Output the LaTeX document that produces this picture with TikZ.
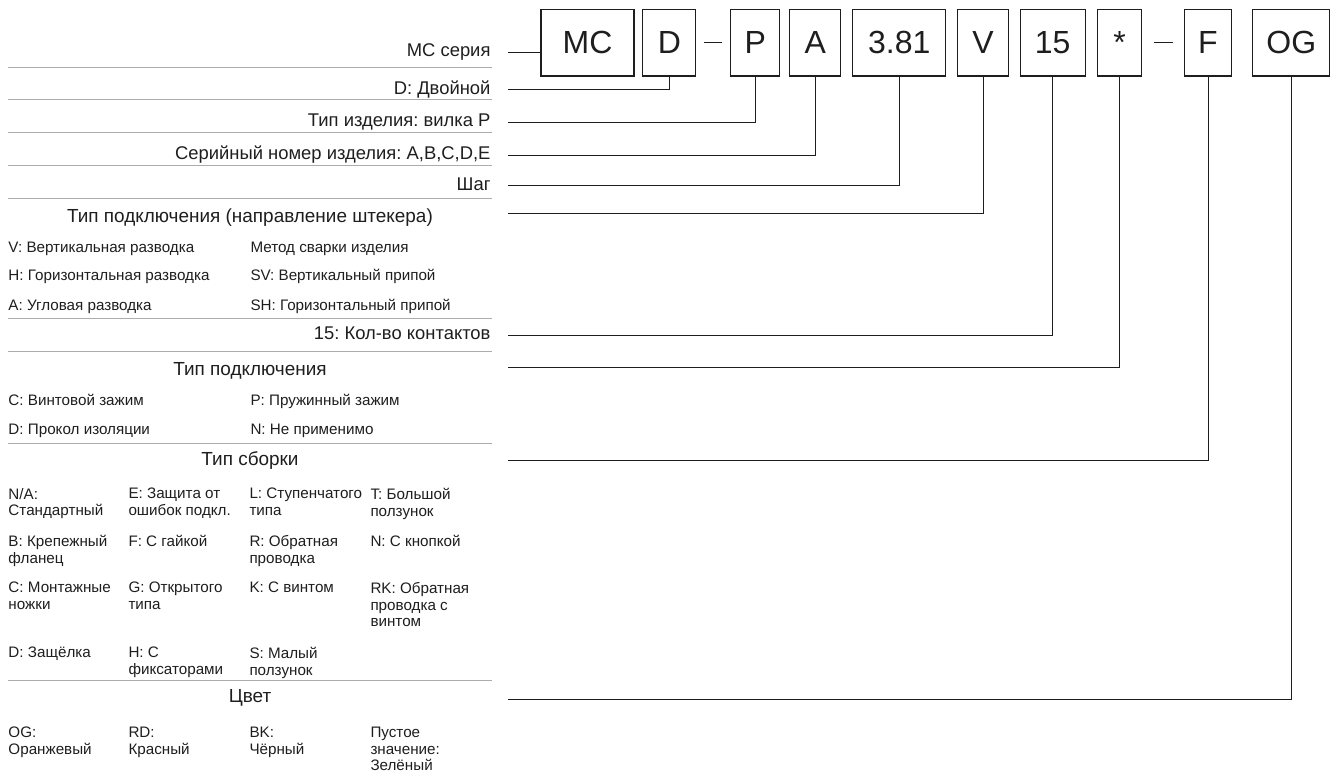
\documentclass[tikz,border=0pt]{standalone}
\usepackage{fontspec}
\setmainfont{Liberation Sans}
\frenchspacing
\definecolor{inkdark}{RGB}{30,30,30}
\definecolor{sepgray}{RGB}{172,172,172}
\tikzset{every picture/.style={line width=0.75pt}}
\tikzset{
	codebox/.style={draw=inkdark, line width=1pt, minimum height=50pt, minimum width=#1*0.75pt, inner sep=0pt, text=inkdark, font=\fontsize{24}{28}\selectfont},
	rowlabel/.style={anchor=base east, inner sep=0pt, text=inkdark, font=\fontsize{13.8}{16}\selectfont},
	headlabel/.style={anchor=base, inner sep=0pt, text=inkdark, font=\fontsize{14.2}{16}\selectfont},
	itemlabel/.style={anchor=base west, inner sep=0pt, text=inkdark, font=\fontsize{11.4}{12.75}\selectfont},
	celllabel/.style={anchor=north west, inner sep=0pt, align=left, text=inkdark, font=\fontsize{11.4}{12.6}\selectfont},
	sepline/.style={draw=sepgray, line width=0.75pt},
	leadline/.style={draw=inkdark, line width=0.75pt},
	dashline/.style={draw=inkdark, line width=1pt}}

\begin{document}
\begin{tikzpicture}[x=0.75pt,y=0.75pt,yscale=-1,xscale=1]
	\useasboundingbox (0,0) rectangle (1332,773);

	%Shape: Rectangle (code boxes)
	\draw (587.5,42.7) node [codebox=93] (bMC) {MC};
	\draw (669.3,42.7) node [codebox=53] (bD) {D};
	\draw (755.3,42.7) node [codebox=49] (bP) {P};
	\draw (815.3,42.7) node [codebox=51] (bA) {A};
	\draw (899.3,42.7) node [codebox=93] (bPitch) {3.81};
	\draw (983,42.7) node [codebox=51] (bV) {V};
	\draw (1052.7,42.7) node [codebox=65] (bPins) {15};
	\draw (1119.7,42.7) node [codebox=44] (bStar) {*};
	\draw (1208,42.7) node [codebox=47] (bF) {F};
	\draw (1291.3,42.7) node [codebox=77] (bOG) {OG};
	%Straight Lines (dashes)
	\draw [dashline] ([xshift=6pt]bD.east) -- ([xshift=-6pt]bP.west);
	\draw [dashline] ([xshift=8.5pt]bStar.east) -- ([xshift=-8.5pt]bF.west);

	% Lead line start points
	\coordinate (cMC) at (508,52.3);
	\coordinate (cD) at (508,89.3);
	\coordinate (cP) at (508,122.7);
	\coordinate (cA) at (508,155.7);
	\coordinate (cPitch) at (508,186);
	\coordinate (cV) at (508,213.3);
	\coordinate (cPins) at (508,335.5);
	\coordinate (cStar) at (508,367.5);
	\coordinate (cF) at (508,461);
	\coordinate (cOG) at (508,699);

	%Straight Lines (leads)
	\draw [leadline] (cMC) -- (cMC -| bMC.west);
	\draw [leadline] (cD) -| (bD.south);
	\draw [leadline] (cP) -| (bP.south);
	\draw [leadline] (cA) -| (bA.south);
	\draw [leadline] (cPitch) -| (bPitch.south);
	\draw [leadline] (cV) -| (bV.south);
	\draw [leadline] (cPins) -| (bPins.south);
	\draw [leadline] (cStar) -| (bStar.south);
	\draw [leadline] (cF) -| (bF.south);
	\draw [leadline] (cOG) -| (bOG.south);

	%Straight Lines (separators)
	\draw [sepline] (8,67.7) -- (492,67.7);
	\draw [sepline] (8,100) -- (492,100);
	\draw [sepline] (8,132.7) -- (492,132.7);
	\draw [sepline] (8,165.7) -- (492,165.7);
	\draw [sepline] (8,198.7) -- (492,198.7);
	\draw [sepline] (8,318.3) -- (492,318.3);
	\draw [sepline] (8,351.7) -- (492,351.7);
	\draw [sepline] (8,443.3) -- (492,443.3);
	\draw [sepline] (8,680.7) -- (492,680.7);

	% Text Node
	\draw (491,57) node [rowlabel] (lMC) {MC серия};
	% Text Node
	\draw (491,94.3) node [rowlabel] (lD) {D: Двойной};
	% Text Node
	\draw (491,126.7) node [rowlabel] (lP) {Тип изделия: вилка P};
	% Text Node
	\draw (491,159.3) node [rowlabel] (lA) {Серийный номер изделия: A,B,C,D,E};
	% Text Node
	\draw (491,190.7) node [rowlabel] (lPitch) {Шаг};

	% Text Node
	\draw (250,223) node [headlabel] (hMount) {Тип подключения (направление штекера)};
	% Text Node
	\draw (8,252.7) node [itemlabel] (iV) {V: Вертикальная разводка};
	\draw (250,252.7) node [itemlabel] (iWeld) {Метод сварки изделия};
	\draw (8,281) node [itemlabel] (iH) {H: Горизонтальная разводка};
	\draw (250,281) node [itemlabel] (iSV) {SV: Вертикальный припой};
	\draw (8,310.5) node [itemlabel] (iAng) {A: Угловая разводка};
	\draw (250,310.5) node [itemlabel] (iSH) {SH: Горизонтальный припой};

	% Text Node
	\draw (491,339.3) node [rowlabel] (lPins) {15: Кол-во контактов};

	% Text Node
	\draw (250,376) node [headlabel] (hTerm) {Тип подключения};
	% Text Node
	\draw (8,406) node [itemlabel] (iScrew) {C: Винтовой зажим};
	\draw (250,406) node [itemlabel] (iSpring) {P: Пружинный зажим};
	\draw (8,434.5) node [itemlabel] (iIdc) {D: Прокол изоляции};
	\draw (250,434.5) node [itemlabel] (iNone) {N: Не применимо};

	% Text Node
	\draw (250,466) node [headlabel] (hAsm) {Тип сборки};
	% Text Node
	\draw (8,487.6) node [celllabel] (gNA) {N/A:\\Стандартный};
	\draw (128,487.6) node [celllabel] (gE) {E: Защита от\\ошибок подкл.};
	\draw (249,487.6) node [celllabel] (gL) {L: Ступенчатого\\типа};
	\draw (370,487.6) node [celllabel] (gT) {T: Большой\\ползунок};
	\draw (8,534.6) node [celllabel] (gB) {B: Крепежный\\фланец};
	\draw (128,534.6) node [celllabel] (gF) {F: С гайкой};
	\draw (249,534.6) node [celllabel] (gR) {R: Обратная\\проводка};
	\draw (370,534.6) node [celllabel] (gN) {N: С кнопкой};
	\draw (8,581.6) node [celllabel] (gC) {C: Монтажные\\ножки};
	\draw (128,581.6) node [celllabel] (gG) {G: Открытого\\типа};
	\draw (249,581.6) node [celllabel] (gK) {K: С винтом};
	\draw (370,581.6) node [celllabel] (gRK) {RK: Обратная\\проводка с\\винтом};
	\draw (8,646.6) node [celllabel] (gD) {D: Защёлка};
	\draw (128,646.6) node [celllabel] (gH) {H: С\\фиксаторами};
	\draw (249,646.6) node [celllabel] (gS) {S: Малый\\ползунок};

	% Text Node
	\draw (250,702) node [headlabel] (hColor) {Цвет};
	% Text Node
	\draw (8,726.4) node [celllabel] (kOG) {OG:\\Оранжевый};
	\draw (128,726.4) node [celllabel] (kRD) {RD:\\Красный};
	\draw (249,726.4) node [celllabel] (kBK) {BK:\\Чёрный};
	\draw (370,726.4) node [celllabel] (kGN) {Пустое\\значение:\\Зелёный};

\end{tikzpicture}
\end{document}
